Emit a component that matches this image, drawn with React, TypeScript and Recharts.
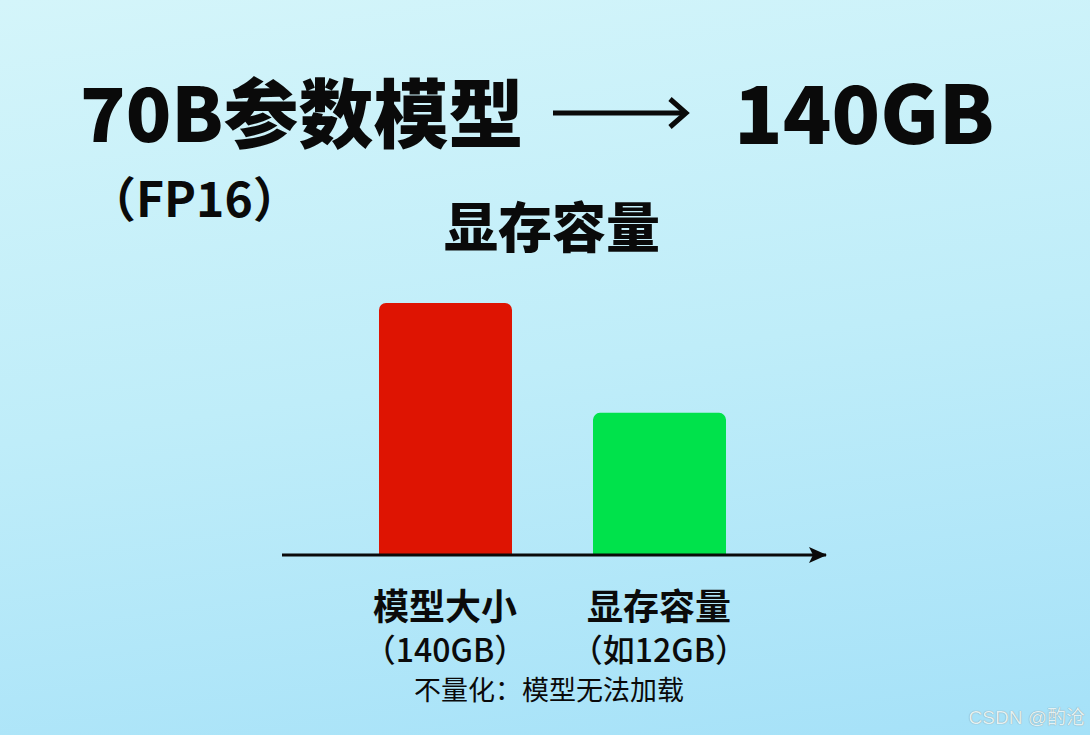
import { BarChart, Bar, XAxis, YAxis, Cell } from "recharts";

// 模型大小 vs 显存容量 (GB)
const categories = ["模型大小", "显存容量"];
const notes = ["（140GB）", "（如12GB）"];
const sizesGB = [140, 12];
const barColors = ["#DE1402", "#00E24B"];

const chartData = categories.map((name, i) => ({ name, note: notes[i], gb: sizesGB[i] }));

const FONT = '"Noto Sans CJK SC", "Noto Sans", sans-serif';

function CategoryTick(props: any) {
  const { x, y, index } = props;
  const d = chartData[index];
  return (
    <g>
      <text x={x} y={y + 49} textAnchor="middle" dominantBaseline="central"
        fontFamily={FONT} fontSize={36} fontWeight={700} fill="#0b0b0b">
        {d.name}
      </text>
      <text x={x} y={y + 93} textAnchor="middle" dominantBaseline="central"
        fontFamily={FONT} fontSize={32} fontWeight={500} fill="#0b0b0b">
        {d.note}
      </text>
    </g>
  );
}

export default function App() {
  return (
    <div
      style={{
        position: "absolute",
        left: 0,
        top: 0,
        width: 1090,
        height: 735,
        overflow: "hidden",
        fontFamily: FONT,
        color: "#0a0a0a",
        background: "linear-gradient(172deg, #d4f5fa 0%, #bfedf9 50%, #a5e1f8 100%)",
      }}
    >
      <div style={{ position: "absolute", left: 80, top: 60, fontSize: 75, fontWeight: 900, lineHeight: "100px", whiteSpace: "nowrap" }}>
        70B参数模型
      </div>
      <svg style={{ position: "absolute", left: 550, top: 95 }} width={145} height={36}>
        <line x1={3} y1={18} x2={136} y2={18} stroke="#0a0a0a" strokeWidth={5} />
        <polyline points="120,4 136,18 120,32" fill="none" stroke="#0a0a0a" strokeWidth={5} />
      </svg>
      <div style={{ position: "absolute", left: 734, top: 59, fontSize: 80, fontWeight: 900, lineHeight: "100px", whiteSpace: "nowrap" }}>
        140GB
      </div>
      <div style={{ position: "absolute", left: 88, top: 166, fontSize: 48, fontWeight: 700, lineHeight: "60px", whiteSpace: "nowrap" }}>
        （FP16）
      </div>
      <div style={{ position: "absolute", left: 0, width: 1104, top: 193, textAlign: "center", fontSize: 54, fontWeight: 900, lineHeight: "64px" }}>
        显存容量
      </div>

      <div style={{ position: "absolute", left: 0, top: 0 }}>
        <BarChart width={1090} height={735} data={chartData}
          margin={{ top: 303, right: 264, bottom: 30, left: 282 }}>
          <defs>
            <marker id="axisArrow" viewBox="0 0 18 18" refX={17} refY={9}
              markerWidth={18} markerHeight={18} markerUnits="userSpaceOnUse" orient="auto">
              <path d="M0,1 L18,9 L0,17 L4,9 Z" fill="#0a0a0a" />
            </marker>
          </defs>
          <XAxis
            dataKey="name"
            height={150}
            padding={{ left: 56, right: 60 }}
            tickLine={false}
            tickSize={0}
            tickMargin={0}
            axisLine={{ stroke: "#0a0a0a", strokeWidth: 3, markerEnd: "url(#axisArrow)" }}
            tick={<CategoryTick />}
            interval={0}
          />
          <YAxis type="number" scale="log" domain={[0.5, 140]} allowDataOverflow hide />
          <Bar dataKey="gb" barSize={133} radius={[7, 7, 0, 0]} isAnimationActive={false}>
            {chartData.map((d, i) => (
              <Cell key={d.name} fill={barColors[i]} />
            ))}
          </Bar>
        </BarChart>
      </div>

      <div style={{ position: "absolute", left: 0, width: 1098, top: 672, textAlign: "center", fontSize: 27, lineHeight: "34px" }}>
        不量化：模型无法加载
      </div>
      <div style={{ position: "absolute", right: 5, top: 702, fontSize: 19, color: "#e3f1f4", textShadow: "0 0 1px #6f8288", fontFamily: '"Liberation Sans", "Noto Sans CJK SC", sans-serif' }}>
        CSDN @酌沧
      </div>
    </div>
  );
}
